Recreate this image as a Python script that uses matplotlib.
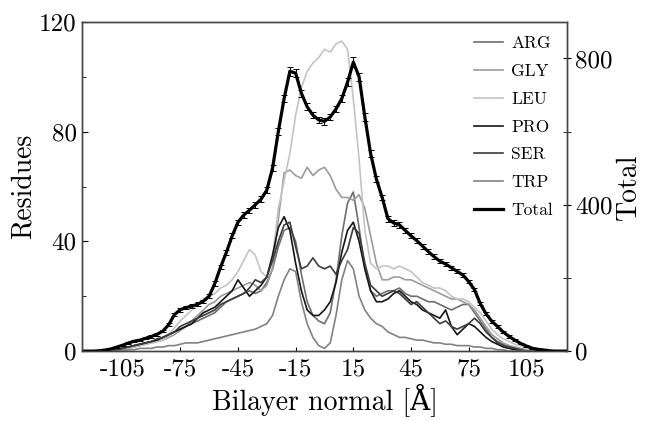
import numpy as np
import matplotlib
matplotlib.use('Agg')
import matplotlib.pyplot as plt
from matplotlib.ticker import MultipleLocator

plt.rcParams['font.family'] = ['cmr10', 'DejaVu Serif']
plt.rcParams['mathtext.fontset'] = 'cm'
plt.rcParams['axes.unicode_minus'] = False

# bilayer normal positions (Angstrom)
z = np.arange(-126, 127, 3)

ARG = [0, 0, 0, 0, 0, 0, 0.5, 1, 1.5, 2,
       2.5, 3, 3.5, 4, 5, 6, 7, 8, 9, 10,
       11, 12, 13, 14, 16, 18, 19, 20, 21, 22,
       21, 22, 25, 30, 38, 44, 45, 40, 28, 18,
       13, 11, 10, 14, 26, 42, 54, 58, 45, 30,
       22, 20, 21, 22, 22, 23, 21, 20, 20, 19,
       18, 18, 17, 16, 15, 16, 17, 17, 14, 11,
       8, 5, 3.5, 2.5, 2, 1, 0.5, 0, 0, 0,
       0, 0, 0, 0, 0]
GLY = [0, 0, 0, 0, 0, 0, 0, 0.5, 1, 1.5,
       2, 2.5, 3, 3.5, 4, 5, 6, 7.5, 9, 11,
       13, 15, 17, 18, 20, 21, 22, 23, 24, 25,
       24, 22, 24, 30, 48, 65, 66, 64, 63, 67,
       64, 66, 67, 64, 59, 56, 56, 55, 57, 52,
       42, 32, 26, 26, 27, 27, 26, 26, 25, 24,
       23, 22, 21, 20, 19, 19, 18, 17, 15, 12,
       9, 6, 4.5, 3, 2, 1.5, 1, 0.5, 0, 0,
       0, 0, 0, 0, 0]
LEU = [0, 0, 0, 0, 0, 0, 0.5, 1, 1, 1.5,
       2, 2.5, 3, 3.5, 4, 6, 8.5, 11, 13, 15,
       17, 19, 20, 21, 23, 24, 26, 29, 33, 37,
       35, 29, 27, 34, 52, 62, 72, 86, 96, 102,
       105, 107, 110, 109, 112, 113, 110, 92, 70, 44,
       32, 30, 31, 31, 30, 31, 30, 29, 27, 25,
       24, 23, 23, 22, 20, 19, 19, 18, 16, 14,
       11, 8, 6, 4.5, 3.5, 2.5, 2, 1, 0.5, 0,
       0, 0, 0, 0, 0]
PRO = [0, 0, 0, 0, 0, 0, 0.5, 1, 1.5, 2,
       2.5, 3, 3.5, 4, 5, 6, 7, 8, 9, 10,
       12, 14, 15, 16, 18, 20, 22, 26, 23, 20,
       22, 24, 27, 35, 45, 49, 44, 32, 22, 15,
       13, 13, 15, 18, 25, 36, 44, 47, 40, 30,
       22, 18, 18, 19, 21, 22, 20, 18, 17, 15,
       14, 13, 12, 15, 9, 6, 8, 10, 9, 7,
       5, 3.5, 2.5, 1.5, 1, 0.5, 0, 0, 0, 0,
       0, 0, 0, 0, 0]
SER = [0, 0, 0, 0, 0, 0, 0.5, 1, 1.5, 2,
       2.5, 3, 3.5, 4.5, 5, 6, 7, 9, 10, 11,
       12, 13, 14, 15, 17, 18, 19, 20, 21, 23,
       26, 25, 27, 33, 40, 46, 47, 38, 30, 31,
       34, 31, 30, 31, 28, 33, 37, 45, 43, 32,
       24, 22, 20, 21, 22, 21, 19, 17, 18, 16,
       14, 12, 10, 11, 9, 8, 9, 10, 12, 10,
       7, 5, 3, 2, 1.5, 1, 0.5, 0, 0, 0,
       0, 0, 0, 0, 0]
TRP = [0, 0, 0, 0, 0, 0, 0, 0, 0.5, 0.5,
       1, 1, 1, 1.5, 1.5, 2, 2, 2.5, 3, 3,
       3, 3.5, 4, 4.5, 5, 5.5, 6, 6.5, 7, 7.5,
       8, 9, 10, 13, 20, 26, 30, 29, 18, 10,
       5, 2, 1, 3, 13, 26, 33, 30, 20, 15,
       12, 10, 9, 7, 6, 5, 5, 4.5, 4, 4,
       3.5, 3, 3, 2.5, 2.5, 2, 2, 2, 1.5, 1.5,
       1, 1, 0.5, 0.5, 0, 0, 0, 0, 0, 0,
       0, 0, 0, 0, 0]
Total = [0, 0, 0, 1, 3, 6, 11, 16, 22, 27,
         30, 35, 40, 46, 55, 72, 100, 113, 119, 123,
         128, 136, 150, 185, 230, 270, 315, 352, 372, 385,
         400, 415, 440, 500, 600, 690, 765, 760, 705, 668,
         645, 632, 628, 640, 662, 690, 735, 790, 750, 640,
         540, 470, 420, 362, 350, 345, 330, 315, 302, 287,
         272, 258, 246, 238, 228, 218, 208, 190, 168, 130,
         102, 82, 67, 52, 40, 30, 21, 14, 8, 5,
         3, 1, 0, 0, 0]
Total_err = [0, 0, 0, 0.5, 1, 1.5, 2, 2.5, 3, 3,
             3, 3, 3.5, 3.5, 4, 4.5, 5, 5, 5, 5,
             5, 5, 5.5, 6, 6.5, 7, 7, 7.5, 7.5, 7.5,
             8, 8, 8, 8.5, 9, 10, 12, 11, 10, 9,
             9, 9, 10, 9, 9, 10, 11, 13, 11, 10,
             9, 8.5, 8, 8, 7.5, 7.5, 7.5, 7, 7, 7,
             6.5, 6.5, 6, 6, 6, 5.5, 5.5, 5, 5, 4.5,
             4, 4, 3.5, 3, 3, 2.5, 2, 2, 1.5, 1,
             0.5, 0, 0, 0, 0]

names = ['ARG', 'GLY', 'LEU', 'PRO', 'SER', 'TRP']
series = [ARG, GLY, LEU, PRO, SER, TRP]
colors = ['#6e6e6e', '#9c9c9c', '#c4c4c4', '#151515', '#3c3c3c', '#828282']

fig = plt.figure(figsize=(6.47, 4.21), dpi=100)
ax = fig.add_axes([0.127, 0.166, 0.749, 0.782])
ax2 = ax.twinx()

handles = []
for name, s, c in zip(names, series, colors):
    h, = ax.plot(z, s, color=c, lw=1.2)
    handles.append(h)

cont = ax2.errorbar(z, Total, yerr=Total_err, color='black', lw=2.3,
                    elinewidth=0.7, capsize=2, capthick=0.7)
handles.append(cont[0])

ax.set_xlim(-126, 126)
ax.set_ylim(0, 120)
ax2.set_ylim(0, 900)

xt = [-105, -75, -45, -15, 15, 45, 75, 105]
ax.set_xticks(xt)
ax.set_xticklabels([str(v) for v in xt])
ax.set_yticks([0, 40, 80, 120])
ax.yaxis.set_minor_locator(MultipleLocator(20))
ax2.set_yticks([0, 400, 800])
ax2.yaxis.set_minor_locator(MultipleLocator(200))

ax.tick_params(axis='both', which='both', direction='in', labelsize=18, top=False)
ax.tick_params(axis='y', which='major', length=4, pad=4)
ax.tick_params(axis='y', which='minor', length=3)
ax.tick_params(axis='x', length=3, pad=5)
ax2.tick_params(axis='y', which='both', direction='inout', length=6, labelsize=18, pad=3)

ax.set_xlabel('Bilayer normal [Å]', fontsize=20, labelpad=2)
ax.set_ylabel('Residues', fontsize=20, labelpad=2)
ax2.set_ylabel('Total', fontsize=20, labelpad=2)

for a in (ax, ax2):
    for sp in a.spines.values():
        sp.set_color('#444444')
        sp.set_linewidth(1.0)

ax2.legend(handles=handles, labels=names + ['Total'], loc='upper right',
           bbox_to_anchor=(1.0, 1.0), frameon=False, fontsize=12.5,
           labelspacing=0.72, handlelength=1.7, handletextpad=0.45,
           borderaxespad=0.4)

fig.savefig('out.png', dpi=100)
